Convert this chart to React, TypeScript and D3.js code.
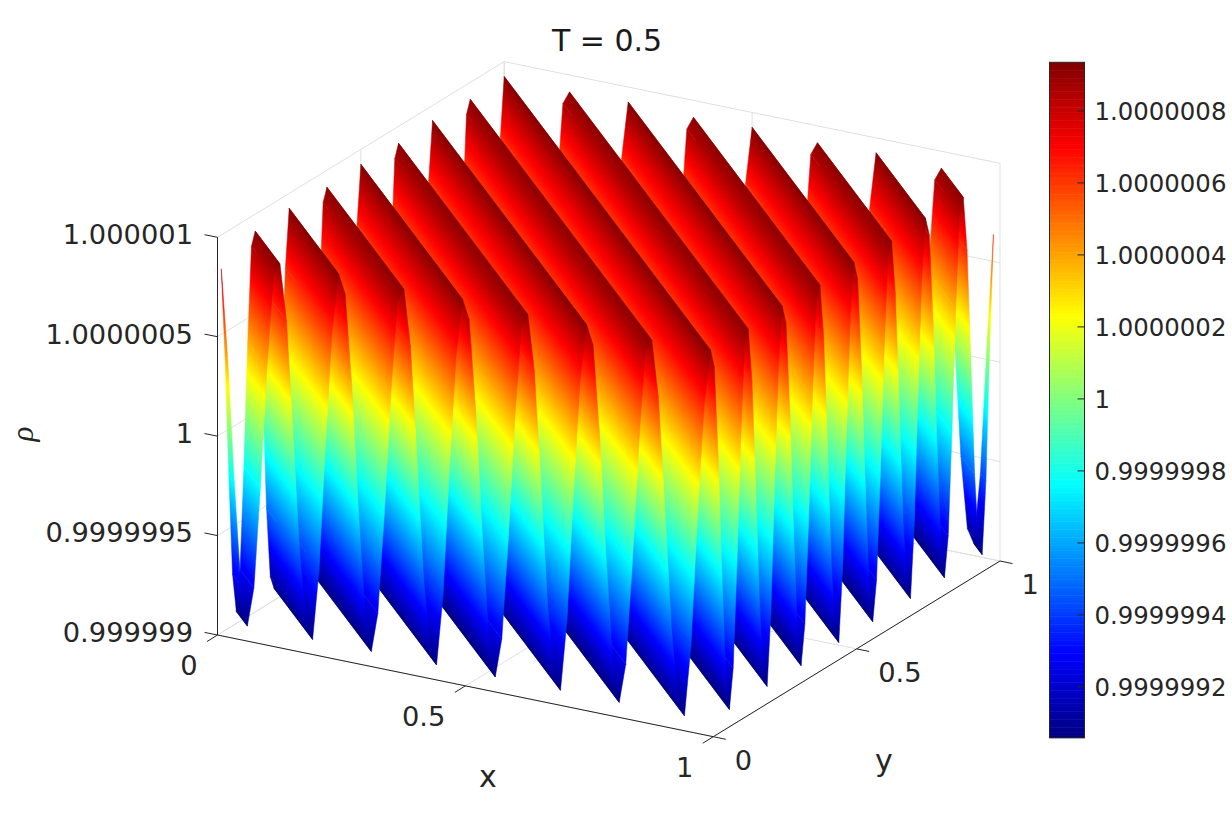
import React, { useMemo } from "react";
import * as d3 from "d3";

// Grid: 76 intervals per unit; the sheet runs over x = 0..75/76 and y = 1/76..1
const gridCount = 76;
const xNodeIndex = d3.range(0, 76);
const yNodeIndex = d3.range(1, 77);

// rho - 1 (in 1e-6) read along x + y, one repeat of 19 grid steps
const rhoCycle = [
  0.925, 0.83, 0.378, -0.231, -0.742, -0.94, -0.742, -0.231, 0.378, 0.85,
  0.915, 0.636, 0.078, -0.514, -0.87, -0.94, -0.58, 0.078, 0.636,
];

const zTicks = [-1, -0.5, 0, 0.5, 1];
const zTickLabels = ["0.999999", "0.9999995", "1", "1.0000005", "1.000001"];
const xyTicks = [0, 0.5, 1];
const xyTickLabels = ["0", "0.5", "1"];
const barTicks = [-0.8, -0.6, -0.4, -0.2, 0, 0.2, 0.4, 0.6, 0.8];
const barTickLabels = [
  "0.9999992", "0.9999994", "0.9999996", "0.9999998", "1",
  "1.0000002", "1.0000004", "1.0000006", "1.0000008",
];
const colorLimits = [-0.941, 0.935];
const jetStops = [0, 0.125, 0.375, 0.625, 0.875, 1];
const jetColors = ["#000080", "#0000ff", "#00ffff", "#ffff00", "#ff0000", "#800000"];

const ORIGIN = { x: 217.5, y: 635 };
const xVecX = d3.scaleLinear().domain([0, 1]).range([0, 495.8]);
const xVecY = d3.scaleLinear().domain([0, 1]).range([0, 101.7]);
const yVecX = d3.scaleLinear().domain([0, 1]).range([0, 286.7]);
const yVecY = d3.scaleLinear().domain([0, 1]).range([0, -175.7]);
const zVecY = d3.scaleLinear().domain([-1, 1]).range([0, -397.7]);

const project = (x: number, y: number, z: number) => ({
  x: ORIGIN.x + xVecX(x) + yVecX(y),
  y: ORIGIN.y + xVecY(x) + yVecY(y) + zVecY(z),
});

const jet = d3.scaleLinear<string>().domain(jetStops).range(jetColors).interpolate(d3.interpolateRgb).clamp(true);
const colorNorm = d3.scaleLinear().domain(colorLimits).range([0, 1]);
const barY = d3.scaleLinear().domain(colorLimits).range([737.7, 62.3]);

const DARK = "#262626";
const GRID = "#dfdfdf";
const FONT = "'DejaVu Sans', sans-serif";

function rhoAt(k: number) {
  return rhoCycle[k % 19];
}

function buildStrips() {
  const iMax = xNodeIndex[xNodeIndex.length - 1];
  const jMin = yNodeIndex[0];
  const jMax = yNodeIndex[yNodeIndex.length - 1];
  const ends = (k: number) => {
    const i0 = Math.max(0, k - jMax);
    const i1 = Math.min(iMax, k - jMin);
    const v = rhoAt(k);
    return {
      a: project(i0 / gridCount, (k - i0) / gridCount, v),
      b: project(i1 / gridCount, (k - i1) / gridCount, v),
      v,
    };
  };
  const strips = [];
  for (let k = iMax + jMax - 1; k >= jMin; k--) {
    const L = ends(k);
    const R = ends(k + 1);
    const dx = xVecX(1) - yVecX(1);
    const dy = xVecY(1) - yVecY(1);
    const len = Math.hypot(dx, dy);
    const nx = -dy / len;
    const ny = dx / len;
    const d = (R.a.x - L.a.x) * nx + (R.a.y - L.a.y) * ny;
    const c0 = colorNorm(L.v);
    const c1 = colorNorm(R.v);
    const ts = [0, 1];
    jetStops.forEach((b) => {
      const t = (b - c0) / (c1 - c0);
      if (t > 0 && t < 1) ts.push(t);
    });
    ts.sort((p, q) => p - q);
    strips.push({
      id: `strip${k}`,
      x1: L.a.x,
      y1: L.a.y,
      x2: L.a.x + nx * d,
      y2: L.a.y + ny * d,
      stops: ts.map((t) => ({ t, color: jet(c0 + (c1 - c0) * t) })),
      points: [L.a, R.a, R.b, L.b].map((p) => `${p.x.toFixed(2)},${p.y.toFixed(2)}`).join(" "),
    });
  }
  return strips;
}

function Seg({ a, b, stroke, w = 1 }: any) {
  return <line x1={a.x} y1={a.y} x2={b.x} y2={b.y} stroke={stroke} strokeWidth={w} />;
}

export default function App() {
  const strips = useMemo(buildStrips, []);
  const barCells = d3.range(256);
  const barH = (737.7 - 62.3) / 256;
  return (
    <svg width={1232} height={828} style={{ position: "absolute", left: 0, top: 0, background: "#fff" }}>
      <defs>
        {strips.map((s) => (
          <linearGradient key={s.id} id={s.id} gradientUnits="userSpaceOnUse" x1={s.x1} y1={s.y1} x2={s.x2} y2={s.y2}>
            {s.stops.map((st, i) => (
              <stop key={i} offset={st.t} stopColor={st.color} />
            ))}
          </linearGradient>
        ))}
      </defs>

      {/* back walls and floor grid */}
      <g>
        {zTicks.map((z) => (
          <g key={z}>
            <Seg a={project(0, 0, z)} b={project(0, 1, z)} stroke={GRID} />
            <Seg a={project(0, 1, z)} b={project(1, 1, z)} stroke={GRID} />
          </g>
        ))}
        {xyTicks.map((t) => (
          <g key={t}>
            <Seg a={project(0, t, -1)} b={project(1, t, -1)} stroke={GRID} />
            <Seg a={project(t, 0, -1)} b={project(t, 1, -1)} stroke={GRID} />
            <Seg a={project(0, t, -1)} b={project(0, t, 1)} stroke={GRID} />
            <Seg a={project(t, 1, -1)} b={project(t, 1, 1)} stroke={GRID} />
          </g>
        ))}
      </g>

      {/* surface */}
      <g>
        {strips.map((s) => (
          <polygon key={s.id} points={s.points} fill={`url(#${s.id})`} stroke={`url(#${s.id})`} strokeWidth={0.5} strokeLinejoin="round" />
        ))}
      </g>

      {/* axes */}
      <Seg a={project(0, 0, -1)} b={project(0, 0, 1)} stroke={DARK} />
      <Seg a={project(0, 0, -1)} b={project(1, 0, -1)} stroke={DARK} />
      <Seg a={project(1, 0, -1)} b={project(1, 1, -1)} stroke={DARK} />
      {zTicks.map((z, i) => {
        const p = project(0, 0, z);
        return (
          <g key={z}>
            <line x1={p.x} y1={p.y} x2={p.x - 13} y2={p.y - 2.6} stroke={DARK} />
            <text x={193} y={p.y + 6.8} textAnchor="end" fontFamily={FONT} fontSize={27.3} fill={DARK}>
              {zTickLabels[i]}
            </text>
          </g>
        );
      })}
      {xyTicks.map((t, i) => {
        const p = project(t, 0, -1);
        const q = project(1, t, -1);
        return (
          <g key={t}>
            <line x1={p.x} y1={p.y} x2={p.x - 10.5} y2={p.y + 6.5} stroke={DARK} />
            <text x={p.x - 20} y={p.y + 40} textAnchor="end" fontFamily={FONT} fontSize={27.3} fill={DARK}>
              {xyTickLabels[i]}
            </text>
            <line x1={q.x} y1={q.y} x2={q.x + 12.5} y2={q.y + 2.6} stroke={DARK} />
            <text x={q.x + 21.5} y={q.y + 33} textAnchor="start" fontFamily={FONT} fontSize={27.3} fill={DARK}>
              {xyTickLabels[i]}
            </text>
          </g>
        );
      })}

      <text x={607} y={51} textAnchor="middle" fontFamily={FONT} fontSize={30} fill="#1a1a1a">T = 0.5</text>
      <text x={488} y={787} textAnchor="middle" fontFamily={FONT} fontSize={30} fill={DARK}>x</text>
      <text x={884} y={771} textAnchor="middle" fontFamily={FONT} fontSize={30} fill={DARK}>y</text>
      <text
        transform="translate(33,434) rotate(-90)"
        textAnchor="middle"
        fontFamily="'Liberation Serif', serif"
        fontStyle="italic"
        fontSize={31}
        fill={DARK}
      >
        ρ
      </text>

      {/* colorbar */}
      <g>
        {barCells.map((i) => (
          <rect
            key={i}
            x={1049.5}
            y={737.7 - (i + 1) * barH}
            width={35}
            height={barH + 0.5}
            fill={jet((i + 0.5) / 256)}
          />
        ))}
        <rect x={1049.5} y={62.3} width={35} height={675.4} fill="none" stroke={DARK} />
        {barTicks.map((t, i) => (
          <g key={t}>
            <line x1={1084.5} x2={1077.5} y1={barY(t)} y2={barY(t)} stroke={DARK} />
            <text x={1094.5} y={barY(t) + 9.5} fontFamily={FONT} fontSize={24.4} fill={DARK}>
              {barTickLabels[i]}
            </text>
          </g>
        ))}
      </g>
    </svg>
  );
}
